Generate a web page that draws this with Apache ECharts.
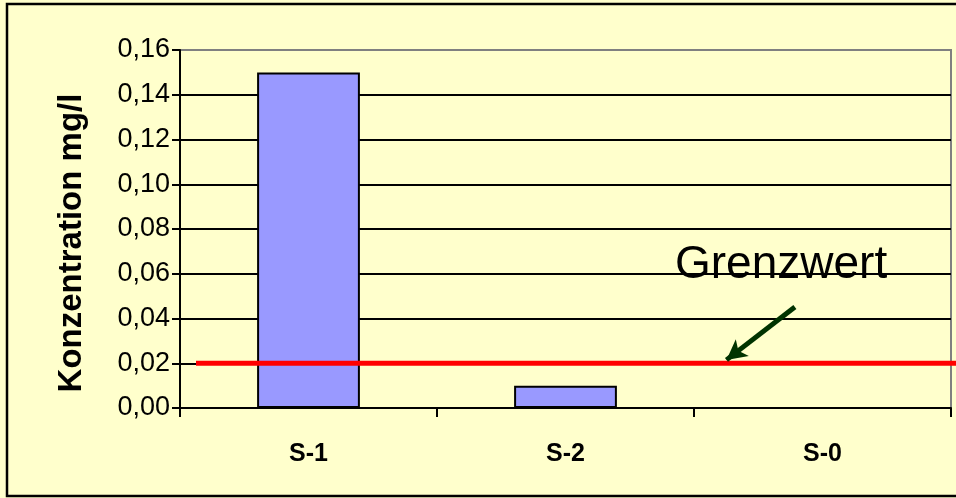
<!DOCTYPE html>
<html>
<head>
<meta charset="utf-8">
<script src="https://cdn.jsdelivr.net/npm/echarts@6/dist/echarts.min.js"></script>
<style>
html,body{margin:0;padding:0;background:#FFFFCC;}
#chart{width:956px;height:498px;}
</style>
</head>
<body>
<div id="chart"></div>
<script>
// ---- data ----
var categories = ['S-1', 'S-2', 'S-0'];
var values = [0.15, 0.01, 0];
var yTicks = [0, 0.02, 0.04, 0.06, 0.08, 0.10, 0.12, 0.14, 0.16];
var limitValue = 0.02;            // Grenzwert
var limitLabel = 'Grenzwert';
var yTitle = 'Konzentration mg/l';
// arrow in overlay coords (x: 0..1 across overlay, y: concentration)
var arrowFrom = [0.788, 0.0451];
var arrowTo = [0.698, 0.0215];

var FONT = 'Liberation Sans';
var chart = echarts.init(document.getElementById('chart'), null, {renderer: 'canvas'});

var splitColors = yTicks.map(function (t, i) { return i === yTicks.length - 1 ? '#808080' : '#000000'; });

chart.setOption({
  backgroundColor: '#FFFFCC',
  animation: false,
  textStyle: {fontFamily: FONT},
  graphic: [
    {
      type: 'rect',
      shape: {x: 7, y: 4, width: 1000, height: 492},
      style: {fill: 'none', stroke: '#000', lineWidth: 2.5},
      z: 100
    },
    {
      type: 'text',
      style: {
        x: 675, y: 265,
        text: limitLabel,
        font: '46px "Liberation Sans", Arial, sans-serif',
        fill: '#000',
        textAlign: 'left',
        textVerticalAlign: 'middle'
      },
      z: 5
    }
  ],
  grid: [
    {left: 180, right: 5, top: 50, bottom: 90, show: true, borderColor: '#808080', borderWidth: 2, backgroundColor: 'transparent'},
    {left: 196, right: 0, top: 50, bottom: 90}
  ],
  xAxis: [
    {
      type: 'category',
      gridIndex: 0,
      data: categories,
      boundaryGap: true,
      axisLine: {lineStyle: {color: '#000', width: 2}},
      axisTick: {show: true, length: 9, lineStyle: {color: '#000', width: 2}},
      axisLabel: {color: '#000', fontFamily: FONT, fontSize: 25, fontWeight: 'bold', margin: 34},
      splitLine: {show: false}
    },
    {
      type: 'value', gridIndex: 1, min: 0, max: 1, show: false
    }
  ],
  yAxis: [
    {
      type: 'value',
      gridIndex: 0,
      min: 0, max: 0.16, interval: 0.02,
      name: yTitle,
      nameLocation: 'middle',
      nameRotate: 90,
      nameGap: 92,
      nameTextStyle: {color: '#000', fontFamily: FONT, fontSize: 33, fontWeight: 'bold', padding: [0, 28, 0, 0]},
      axisLine: {show: true, lineStyle: {color: '#000', width: 2}},
      axisTick: {show: true, length: 8, lineStyle: {color: '#000', width: 2}},
      axisLabel: {
        color: '#000', fontFamily: FONT, fontSize: 27, margin: 10,
        formatter: function (v) { return v.toFixed(2).replace('.', ','); }
      },
      splitLine: {show: true, lineStyle: {color: splitColors, width: 2}}
    },
    {
      type: 'value', gridIndex: 1, min: 0, max: 0.16, show: false
    }
  ],
  series: [
    {
      type: 'bar',
      xAxisIndex: 0, yAxisIndex: 0,
      data: values,
      barWidth: '40%',
      itemStyle: {color: '#9999FF', borderColor: '#000', borderWidth: 2},
      z: 2
    },
    {
      type: 'line',
      xAxisIndex: 1, yAxisIndex: 1,
      data: [[0, limitValue], [1, limitValue]],
      symbol: 'none',
      lineStyle: {color: '#FF0000', width: 5},
      z: 4,
      silent: true,
      markLine: {
        silent: true,
        symbol: ['none', 'arrow'],
        symbolSize: [16, 20],
        label: {show: false},
        lineStyle: {color: '#003300', width: 5, type: 'solid'},
        data: [[{coord: arrowFrom}, {coord: arrowTo}]]
      }
    }
  ]
});
</script>
</body>
</html>
